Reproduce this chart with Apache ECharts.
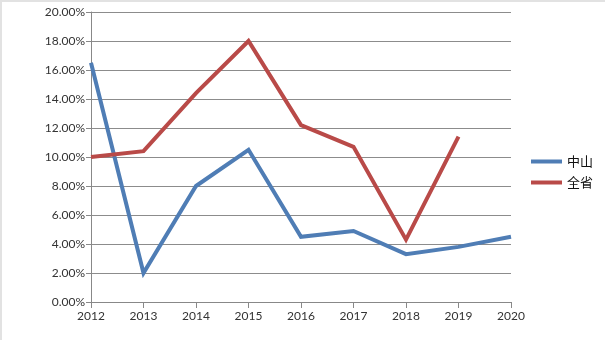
<!DOCTYPE html>
<html>
<head>
<meta charset="utf-8">
<script src="https://cdn.jsdelivr.net/npm/echarts@6/dist/echarts.min.js"></script>
<style>
  html, body { margin: 0; padding: 0; background: #fff; }
  #chart { width: 605px; height: 340px; box-sizing: border-box; border-top: 2px solid #e2e2e2; border-left: 2px solid #e2e2e2; }
</style>
</head>
<body>
<div id="chart"></div>
<script>
// Years on the horizontal axis
const years = ['2012', '2013', '2014', '2015', '2016', '2017', '2018', '2019', '2020'];
// Growth rates (%) for Zhongshan and the whole province
const zhongshan = [16.5, 2.0, 8.0, 10.5, 4.5, 4.9, 3.3, 3.8, 4.5];
const province = [10.0, 10.4, 14.4, 18.0, 12.2, 10.7, 4.3, 11.4, null];
const seriesNames = ['中山', '全省'];

const chart = echarts.init(document.getElementById('chart'));
const labelFont = { fontFamily: 'Lato, "Noto Sans CJK SC", sans-serif', fontSize: 12, color: '#333' };

chart.setOption({
  animation: false,
  grid: { left: 89, right: 94, top: 10, bottom: 38 },
  legend: {
    orient: 'vertical',
    left: 524, top: 148,
    itemWidth: 31, itemHeight: 4, itemGap: 8,
    icon: 'rect',
    textStyle: { fontFamily: '"Noto Sans CJK SC", sans-serif', fontSize: 13, color: '#111' },
    data: seriesNames
  },
  xAxis: {
    type: 'category',
    data: years,
    boundaryGap: false,
    axisLine: { lineStyle: { color: '#888', width: 1 } },
    axisTick: { show: true, length: 6, alignWithLabel: true, lineStyle: { color: '#888' } },
    axisLabel: Object.assign({ margin: 8, interval: 0 }, labelFont),
    splitLine: { show: false }
  },
  yAxis: {
    type: 'value',
    min: 0, max: 20, interval: 2,
    axisLine: { show: true, lineStyle: { color: '#888', width: 1 } },
    axisTick: { show: true, length: 5, inside: false, lineStyle: { color: '#888' } },
    axisLabel: Object.assign({ margin: 6, formatter: v => v.toFixed(2) + '%' }, labelFont),
    splitLine: { show: true, lineStyle: { color: '#8c8c8c', width: 1 } }
  },
  series: [
    {
      name: seriesNames[0], type: 'line', data: zhongshan,
      showSymbol: false, symbol: 'none',
      lineStyle: { color: '#4f7db5', width: 4, join: 'miter' },
      itemStyle: { color: '#4f7db5' }
    },
    {
      name: seriesNames[1], type: 'line', data: province,
      showSymbol: false, symbol: 'none',
      lineStyle: { color: '#b94a48', width: 4, join: 'miter' },
      itemStyle: { color: '#b94a48' }
    }
  ]
});
</script>
</body>
</html>
